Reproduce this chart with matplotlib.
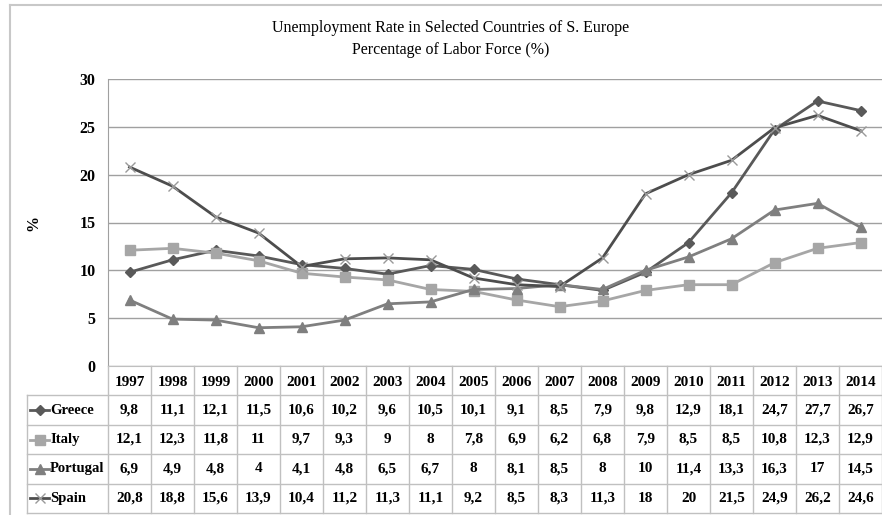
import matplotlib.pyplot as plt
from matplotlib.lines import Line2D

# datos de la tabla
years = [1997, 1998, 1999, 2000, 2001, 2002, 2003, 2004, 2005,
         2006, 2007, 2008, 2009, 2010, 2011, 2012, 2013, 2014]
greece = [9.8, 11.1, 12.1, 11.5, 10.6, 10.2, 9.6, 10.5, 10.1,
          9.1, 8.5, 7.9, 9.8, 12.9, 18.1, 24.7, 27.7, 26.7]
italy = [12.1, 12.3, 11.8, 11, 9.7, 9.3, 9, 8, 7.8,
         6.9, 6.2, 6.8, 7.9, 8.5, 8.5, 10.8, 12.3, 12.9]
portugal = [6.9, 4.9, 4.8, 4, 4.1, 4.8, 6.5, 6.7, 8,
            8.1, 8.5, 8, 10, 11.4, 13.3, 16.3, 17, 14.5]
spain = [20.8, 18.8, 15.6, 13.9, 10.4, 11.2, 11.3, 11.1, 9.2,
         8.5, 8.3, 11.3, 18, 20, 21.5, 24.9, 26.2, 24.6]
countries = ['Greece', 'Italy', 'Portugal', 'Spain']
series = [greece, italy, portugal, spain]

line_colors = ['#595959', '#a6a6a6', '#7f7f7f', '#4d4d4d']
markers = [
    dict(marker='D', ms=5, mfc='#595959', mec='#595959'),
    dict(marker='s', ms=6.5, mfc='#a6a6a6', mec='#a6a6a6'),
    dict(marker='^', ms=6.5, mfc='#7f7f7f', mec='#7f7f7f'),
    dict(marker='x', ms=7, mec='#999999', mew=1.0),
]

FONT = 'Liberation Serif'
W, H = 882, 515
fig = plt.figure(figsize=(8.82, 5.15), dpi=100)


def px_axes(l, t, r, b):
    return fig.add_axes([l / W, 1 - b / H, (r - l) / W, (b - t) / H])


def fmt(v):
    return f"{v:g}".replace('.', ',')


# marco del grafico
fig.add_artist(Line2D([10 / W, 10 / W], [0, 1 - 5 / H], color='#c8c8c8', lw=1.5))
fig.add_artist(Line2D([10 / W, 1], [1 - 5 / H, 1 - 5 / H], color='#c8c8c8', lw=1.5))

fig.text(451 / W, 1 - 28 / H, 'Unemployment Rate in Selected Countries of S. Europe',
         ha='center', va='center', fontsize=11.5, family=FONT)
fig.text(451 / W, 1 - 50 / H, 'Percentage of Labor Force (%)',
         ha='center', va='center', fontsize=11.5, family=FONT)

# area del grafico
ax = px_axes(108, 79, 882, 366)
x = list(range(len(years)))
for vals, c, mk in zip(series, line_colors, markers):
    ax.plot(x, vals, lw=2, color=c, **mk, zorder=3)
ax.set_xlim(-0.5, len(years) - 0.5)
ax.set_ylim(0, 30)
ax.set_yticks(range(0, 31, 5))
ax.set_xticks([])
ax.grid(axis='y', color='#a0a0a0', lw=1)
for s in ['top', 'right']:
    ax.spines[s].set_visible(False)
ax.spines['left'].set_color('#a0a0a0')
ax.spines['bottom'].set_color('#bfbfbf')
ax.tick_params(axis='y', length=0, pad=9)
for lab in ax.get_yticklabels():
    lab.set_fontfamily(FONT)
    lab.set_fontweight('bold')
    lab.set_fontsize(11.5)
fig.text(33 / W, 1 - 223 / H, '%', rotation=90, ha='center', va='center',
         fontsize=11.5, fontweight='bold', family=FONT)

# tabla de datos
tb = px_axes(27, 366, 882, 513)
col_w = 43.0
x0 = -0.5 - 81 / col_w
tb.set_xlim(x0, len(years) - 0.5)
tb.set_ylim(5, 0)
tb.axis('off')


def px2x(px):
    return x0 + (px - 27) / col_w


gc = '#c0c0c0'
for r in range(1, 6):
    tb.plot([x0, len(years) - 0.5], [r, r], color=gc, lw=1, clip_on=False)
tb.plot([x0, x0], [1, 5], color=gc, lw=1, clip_on=False)
for k in range(len(years) + 1):
    tb.plot([k - 0.5, k - 0.5], [0, 5], color=gc, lw=1, clip_on=False)

for i, yr in enumerate(years):
    tb.text(i, 0.55, str(yr), ha='center', va='center', fontsize=11,
            fontweight='bold', family=FONT)

for r, (name, vals, c, mk) in enumerate(zip(countries, series, line_colors, markers), start=1):
    yc = r + 0.5
    tb.plot([px2x(30), px2x(49)], [yc, yc], lw=2, color=c)
    tb.plot([px2x(39.5)], [yc], lw=0, **mk)
    tb.text(px2x(50), yc, name, ha='left', va='center', fontsize=10.5,
            fontweight='bold', family=FONT)
    for i, v in enumerate(vals):
        tb.text(i, yc, fmt(v), ha='center', va='center', fontsize=11,
                fontweight='bold', family=FONT)

fig.savefig('out.png', dpi=100)
